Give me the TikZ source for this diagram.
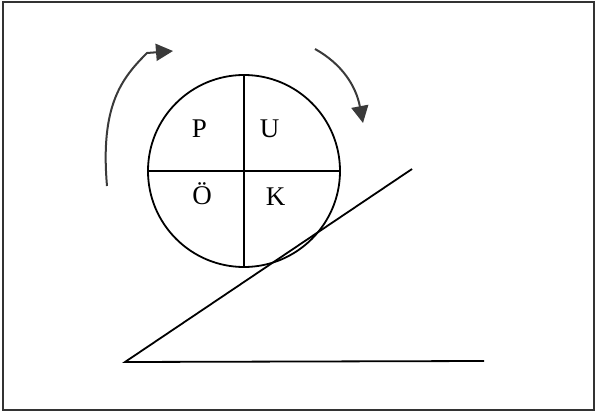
\documentclass[tikz,border=0pt]{standalone}
\usepackage{fontspec}
\setmainfont{Liberation Serif}
\usepackage{xcolor}
\usepackage{tikz}
\usetikzlibrary{arrows.meta}

\definecolor{arrowgray}{HTML}{3A3A3A}
\tikzset{
  wheel/.style={circle,draw,line width=1.8pt,minimum size=192pt,inner sep=0pt},
  letter/.style={font=\fontsize{27}{31}\selectfont,inner sep=0pt},
  turn/.style={line width=2pt,draw=arrowgray,-{Triangle[length=17pt,width=17pt,fill=arrowgray]}}
}

\begin{document}
\begin{tikzpicture}[x=1pt,y=-1pt,line width=1.8pt]
  \useasboundingbox (0,0) rectangle (596,414);
  % ── Frame ──────────────────────────────────────────
  \draw[line width=2.2pt,black!80] (3,2) rectangle (594,410);
  % ── Wheel with four quarters ──────────────────────
  \node[wheel] (puk) at (244,171) {};
  \draw (puk.north) -- (puk.south);
  \draw (puk.west) -- (puk.east);
  \node[letter] (p) at (199.5,129) {P};
  \node[letter] (u) at (269.5,129) {U};
  \node[letter] (oe) at (202,194) {Ö};
  \node[letter] (k) at (275.5,196.5) {K};
  % ── Slope ─────────────────────────────────────────
  \coordinate (foot) at (125,362);
  \coordinate (top) at (412,169);
  \coordinate (end) at (484,361);
  \draw (top) -- (foot) -- (end);
  % ── Turning arrows ────────────────────────────────
  \coordinate (l0) at (107,186);
  \coordinate (l1) at (147,53);
  \coordinate (l2) at (173,51);
  \draw[turn] (l0) .. controls (100,105) and (122,78) .. (l1) -- (l2);
  \coordinate (r0) at (315,49);
  \coordinate (r1) at (363,123);
  \draw[turn] (r0) .. controls (342,64) and (356,86) .. (r1);
\end{tikzpicture}
\end{document}
